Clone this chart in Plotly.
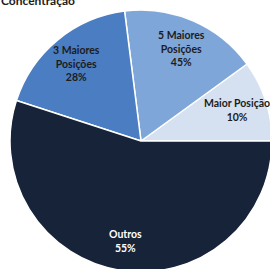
import math
import plotly.graph_objects as go

categories = ["Maior Posição", "5 Maiores Posições", "3 Maiores Posições", "Outros"]
label_lines = ["Maior Posição", "5 Maiores<br>Posições", "3 Maiores<br>Posições", "Outros"]
slice_values = [10, 17, 18, 55]
shown_pct = [10, 45, 28, 55]
colors = ["#d5e0f1", "#7fa6d8", "#4a7dc2", "#162338"]
text_colors = ["#1c1c1c", "#1c1c1c", "#1c1c1c", "#ffffff"]

total = sum(slice_values)
first_deg = 360 * slice_values[0] / total

fig = go.Figure(go.Pie(
    labels=categories,
    values=slice_values,
    textinfo="none",
    sort=False,
    direction="counterclockwise",
    rotation=90 - first_deg,  # first slice starts at 3 o'clock
    marker=dict(colors=colors, line=dict(color="white", width=1.5)),
    showlegend=False,
    domain=dict(x=[0, 1], y=[0, 1]),
))

# data labels at ~0.77 of the radius, along each slice's bisector
label_frac = 0.77
annotations = []
cum = 0
for lab, pct, v, tc in zip(label_lines, shown_pct, slice_values, text_colors):
    mid = 2 * math.pi * (cum + v / 2) / total
    cum += v
    annotations.append(dict(
        text=f"<b>{lab}<br>{pct}%</b>",
        x=0.5 + 0.5 * label_frac * math.cos(mid),
        y=0.5 + 0.5 * label_frac * math.sin(mid),
        xref="paper", yref="paper", xanchor="center", yanchor="middle",
        showarrow=False, font=dict(family="Lato", size=10.5, color=tc),
    ))

annotations.append(dict(
    text="<b>Concentração</b>", x=0, y=1, xref="paper", yref="paper",
    xanchor="left", yanchor="bottom", xshift=-11, yshift=0, showarrow=False,
    font=dict(family="Lato", size=12, color="#1c1c1c"),
))

fig.update_layout(
    width=272, height=272,
    margin=dict(l=10, r=0, t=10, b=0),
    paper_bgcolor="white",
    annotations=annotations,
)

fig.write_html(
    "out.html",
    config={"displayModeBar": False},
    post_script="document.body.style.margin='0';document.body.style.overflow='hidden';",
)
